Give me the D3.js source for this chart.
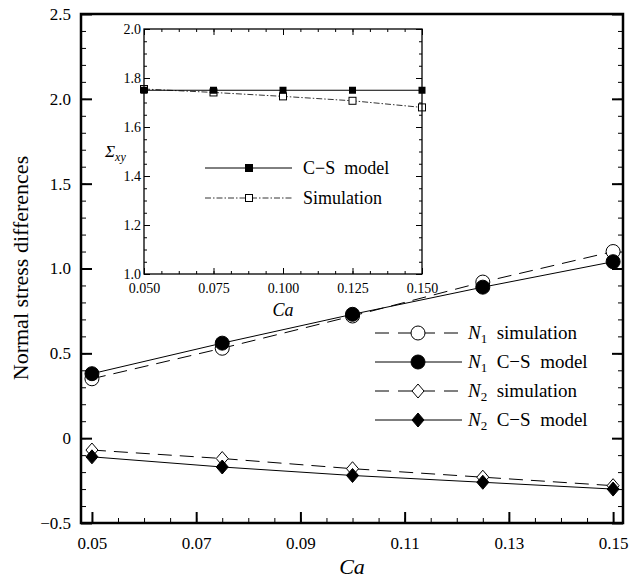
<!DOCTYPE html>
<html lang="en">
<head>
<meta charset="UTF-8">
<title>Normal stress differences vs Ca</title>
<script src="https://d3js.org/d3.v7.min.js"></script>
<style>
  body { margin: 0; background: #fff; }
  svg text { font-family: "Liberation Serif", "Times New Roman", "DejaVu Serif", serif !important; fill: #000; }
</style>
</head>
<body>
<script>
// main chart data
const ca = [0.05, 0.075, 0.1, 0.125, 0.15];
const n1Simulation = [0.35, 0.53, 0.72, 0.92, 1.10];
const n1Model = [0.38, 0.56, 0.73, 0.89, 1.04];
const n2Simulation = [-0.07, -0.12, -0.18, -0.23, -0.28];
const n2Model = [-0.11, -0.17, -0.22, -0.26, -0.30];
const xTicks = [0.05, 0.07, 0.09, 0.11, 0.13, 0.15];
const yTicks = [-0.5, 0, 0.5, 1.0, 1.5, 2.0, 2.5];

// inset data
const sigmaModel = [1.75, 1.75, 1.75, 1.75, 1.75];
const sigmaSimulation = [1.755, 1.741, 1.725, 1.707, 1.680];
const insetXTicks = [0.05, 0.075, 0.1, 0.125, 0.15];
const insetYTicks = [1.0, 1.2, 1.4, 1.6, 1.8, 2.0];

const W = 630, H = 585;
const svg = d3.select("body").append("svg").attr("width", W).attr("height", H);

// scales
const x = d3.scaleLinear().domain([0.0479, 0.1519]).range([81, 623]);
const y = d3.scaleLinear().domain([-0.5, 2.5]).range([523, 14]);

const fmtY = v => v === 0 ? "0" : (v < 0 ? "\u2212" : "") + Math.abs(v).toFixed(1);

// minor ticks
const xMinor = d3.range(0, 21).map(i => 0.05 + i * 0.005);
const yMinor = d3.range(0, 31).map(i => -0.5 + i * 0.1);

const gAxes = svg.append("g");
// bottom axis ticks
gAxes.append("g").attr("transform", "translate(0,523)")
  .call(d3.axisBottom(x).tickValues(xMinor).tickSize(-5).tickFormat(""))
  .call(g => g.select(".domain").remove());
gAxes.append("g").attr("transform", "translate(0,523)")
  .call(d3.axisBottom(x).tickValues(xTicks).tickSize(-11).tickPadding(14).tickFormat(d3.format(".2f")))
  .call(g => g.select(".domain").remove())
  .call(g => g.selectAll("line").attr("stroke-width", 2))
  .call(g => g.selectAll("text").attr("font-size", 17));
// left axis
gAxes.append("g").attr("transform", "translate(81,0)")
  .call(d3.axisLeft(y).tickValues(yMinor).tickSize(-5).tickFormat(""))
  .call(g => g.select(".domain").remove());
gAxes.append("g").attr("transform", "translate(81,0)")
  .call(d3.axisLeft(y).tickValues(yTicks).tickSize(-11).tickPadding(10).tickFormat(fmtY))
  .call(g => g.select(".domain").remove())
  .call(g => g.selectAll("line").attr("stroke-width", 2))
  .call(g => g.selectAll("text").attr("font-size", 17));
// right axis
gAxes.append("g").attr("transform", "translate(623,0)")
  .call(d3.axisRight(y).tickValues(yMinor).tickSize(-5).tickFormat(""))
  .call(g => g.select(".domain").remove());
gAxes.append("g").attr("transform", "translate(623,0)")
  .call(d3.axisRight(y).tickValues(yTicks).tickSize(-11).tickFormat(""))
  .call(g => g.select(".domain").remove())
  .call(g => g.selectAll("line").attr("stroke-width", 2));

// frame
svg.append("rect").attr("x", 81).attr("y", 14).attr("width", 542).attr("height", 509)
  .attr("fill", "none").attr("stroke", "#000").attr("stroke-width", 2.5);

// axis labels
svg.append("text").attr("x", 352).attr("y", 574).attr("text-anchor", "middle")
  .attr("font-size", 22).attr("font-style", "italic").text("Ca");
svg.append("text").attr("transform", "translate(28,268) rotate(-90)").attr("text-anchor", "middle")
  .attr("font-size", 22).text("Normal stress differences");

// series
const series = [
  { name: "simulation", sub: "1", vals: n1Simulation, dash: "14,8", marker: "circle", fill: "#fff" },
  { name: "C\u2212S  model", sub: "1", vals: n1Model, dash: null, marker: "circle", fill: "#000" },
  { name: "simulation", sub: "2", vals: n2Simulation, dash: "14,8", marker: "diamond", fill: "#fff" },
  { name: "C\u2212S  model", sub: "2", vals: n2Model, dash: null, marker: "diamond", fill: "#000" }
];

const line = d3.line().x(d => x(d[0])).y(d => y(d[1]));
const circleSym = d3.symbol().type(d3.symbolCircle).size(Math.PI * 7 * 7);
const diamondPath = "M0,-7L6,0L0,7L-6,0Z";

function drawMarker(g, s, cx, cy) {
  g.append("path").attr("d", s.marker === "circle" ? circleSym() : diamondPath)
    .attr("transform", `translate(${cx},${cy})`)
    .attr("fill", s.fill).attr("stroke", "#000").attr("stroke-width", 1);
}

const gData = svg.append("g");
series.forEach(s => {
  const pts = ca.map((c, i) => [c, s.vals[i]]);
  gData.append("path").attr("d", line(pts)).attr("fill", "none").attr("stroke", "#000")
    .attr("stroke-width", 1).attr("stroke-dasharray", s.dash);
});
// open markers first, filled on top
[0, 2, 1, 3].forEach(k => {
  const s = series[k];
  ca.forEach((c, i) => drawMarker(gData, s, x(c), y(s.vals[i])));
});

// legend
const legendRows = [333, 362, 391, 420];
series.forEach((s, k) => {
  const ly = legendRows[k];
  const g = svg.append("g");
  g.append("line").attr("x1", 375).attr("x2", 462).attr("y1", ly).attr("y2", ly)
    .attr("stroke", "#000").attr("stroke-width", 1).attr("stroke-dasharray", s.dash ? "14,9" : null);
  drawMarker(g, s, 418, ly);
  const t = g.append("text").attr("x", 468).attr("y", ly + 6).attr("font-size", 19).attr("xml:space", "preserve");
  t.append("tspan").attr("font-style", "italic").text("N");
  t.append("tspan").attr("font-size", 13).attr("dy", 4).text(s.sub);
  t.append("tspan").attr("dy", -4).text("  " + s.name);
});

// ---------- inset ----------
const ix = d3.scaleLinear().domain([0.05, 0.15]).range([144, 422]);
const iy = d3.scaleLinear().domain([1.0, 2.0]).range([274, 29]);

svg.append("rect").attr("x", 144).attr("y", 29).attr("width", 278).attr("height", 245)
  .attr("fill", "#fff").attr("stroke", "none");

const ixMinor = d3.range(0, 17).map(i => 0.05 + i * 0.00625);
const iyMinor = d3.range(0, 21).map(i => 1.0 + i * 0.05);
const noDomain = g => g.select(".domain").remove();

const gi = svg.append("g");
gi.append("g").attr("transform", "translate(0,274)")
  .call(d3.axisBottom(ix).tickValues(ixMinor).tickSize(-3).tickFormat("")).call(noDomain);
gi.append("g").attr("transform", "translate(0,274)")
  .call(d3.axisBottom(ix).tickValues(insetXTicks).tickSize(-6).tickPadding(9).tickFormat(d3.format(".3f")))
  .call(noDomain)
  .call(g => g.selectAll("text").attr("font-size", 14));
gi.append("g").attr("transform", "translate(0,29)")
  .call(d3.axisTop(ix).tickValues(ixMinor).tickSize(-3).tickFormat("")).call(noDomain);
gi.append("g").attr("transform", "translate(0,29)")
  .call(d3.axisTop(ix).tickValues(insetXTicks).tickSize(-6).tickFormat("")).call(noDomain);
gi.append("g").attr("transform", "translate(144,0)")
  .call(d3.axisLeft(iy).tickValues(iyMinor).tickSize(-3).tickFormat("")).call(noDomain);
gi.append("g").attr("transform", "translate(144,0)")
  .call(d3.axisLeft(iy).tickValues(insetYTicks).tickSize(-6).tickPadding(3).tickFormat(d3.format(".1f")))
  .call(noDomain)
  .call(g => g.selectAll("text").attr("font-size", 14).attr("dy", "0.3em"));
gi.append("g").attr("transform", "translate(422,0)")
  .call(d3.axisRight(iy).tickValues(iyMinor).tickSize(-3).tickFormat("")).call(noDomain);
gi.append("g").attr("transform", "translate(422,0)")
  .call(d3.axisRight(iy).tickValues(insetYTicks).tickSize(-6).tickFormat("")).call(noDomain);

svg.append("rect").attr("x", 144).attr("y", 29).attr("width", 278).attr("height", 245)
  .attr("fill", "none").attr("stroke", "#000").attr("stroke-width", 1.3);

const iline = d3.line().x(d => ix(d[0])).y(d => iy(d[1]));
gi.append("path").attr("d", iline(ca.map((c, i) => [c, sigmaSimulation[i]])))
  .attr("fill", "none").attr("stroke", "#000").attr("stroke-width", 0.8).attr("stroke-dasharray", "6,2,1.5,2");
gi.append("path").attr("d", iline(ca.map((c, i) => [c, sigmaModel[i]])))
  .attr("fill", "none").attr("stroke", "#000").attr("stroke-width", 1);
ca.forEach((c, i) => {
  gi.append("rect").attr("x", ix(c) - 3.5).attr("y", iy(sigmaSimulation[i]) - 3.5)
    .attr("width", 7).attr("height", 7).attr("fill", "#fff").attr("stroke", "#000").attr("stroke-width", 1);
});
ca.forEach((c, i) => {
  gi.append("rect").attr("x", ix(c) - 3.5).attr("y", iy(sigmaModel[i]) - 3.5)
    .attr("width", 7).attr("height", 7).attr("fill", "#000");
});

// inset labels
svg.append("text").attr("x", 283).attr("y", 316).attr("text-anchor", "middle")
  .attr("font-size", 18).attr("font-style", "italic").text("Ca");
const sig = svg.append("text").attr("x", 105).attr("y", 157).attr("font-size", 17).attr("font-style", "italic");
sig.append("tspan").text("\u03A3");
sig.append("tspan").attr("font-size", 12).attr("dy", 4).text("xy");

// inset legend
const iLegend = [
  { name: "C\u2212S  model", y: 168, dash: null, fill: "#000" },
  { name: "Simulation", y: 198, dash: "6,2,1.5,2", fill: "#fff" }
];
iLegend.forEach(l => {
  gi.append("line").attr("x1", 205).attr("x2", 292).attr("y1", l.y).attr("y2", l.y)
    .attr("stroke", "#000").attr("stroke-width", l.dash ? 0.8 : 1).attr("stroke-dasharray", l.dash);
  gi.append("rect").attr("x", 249 - 3.5).attr("y", l.y - 3.5).attr("width", 7).attr("height", 7)
    .attr("fill", l.fill).attr("stroke", "#000").attr("stroke-width", 1);
  gi.append("text").attr("x", 303).attr("y", l.y + 6).attr("font-size", 18).attr("xml:space", "preserve").text(l.name);
});
</script>
</body>
</html>
